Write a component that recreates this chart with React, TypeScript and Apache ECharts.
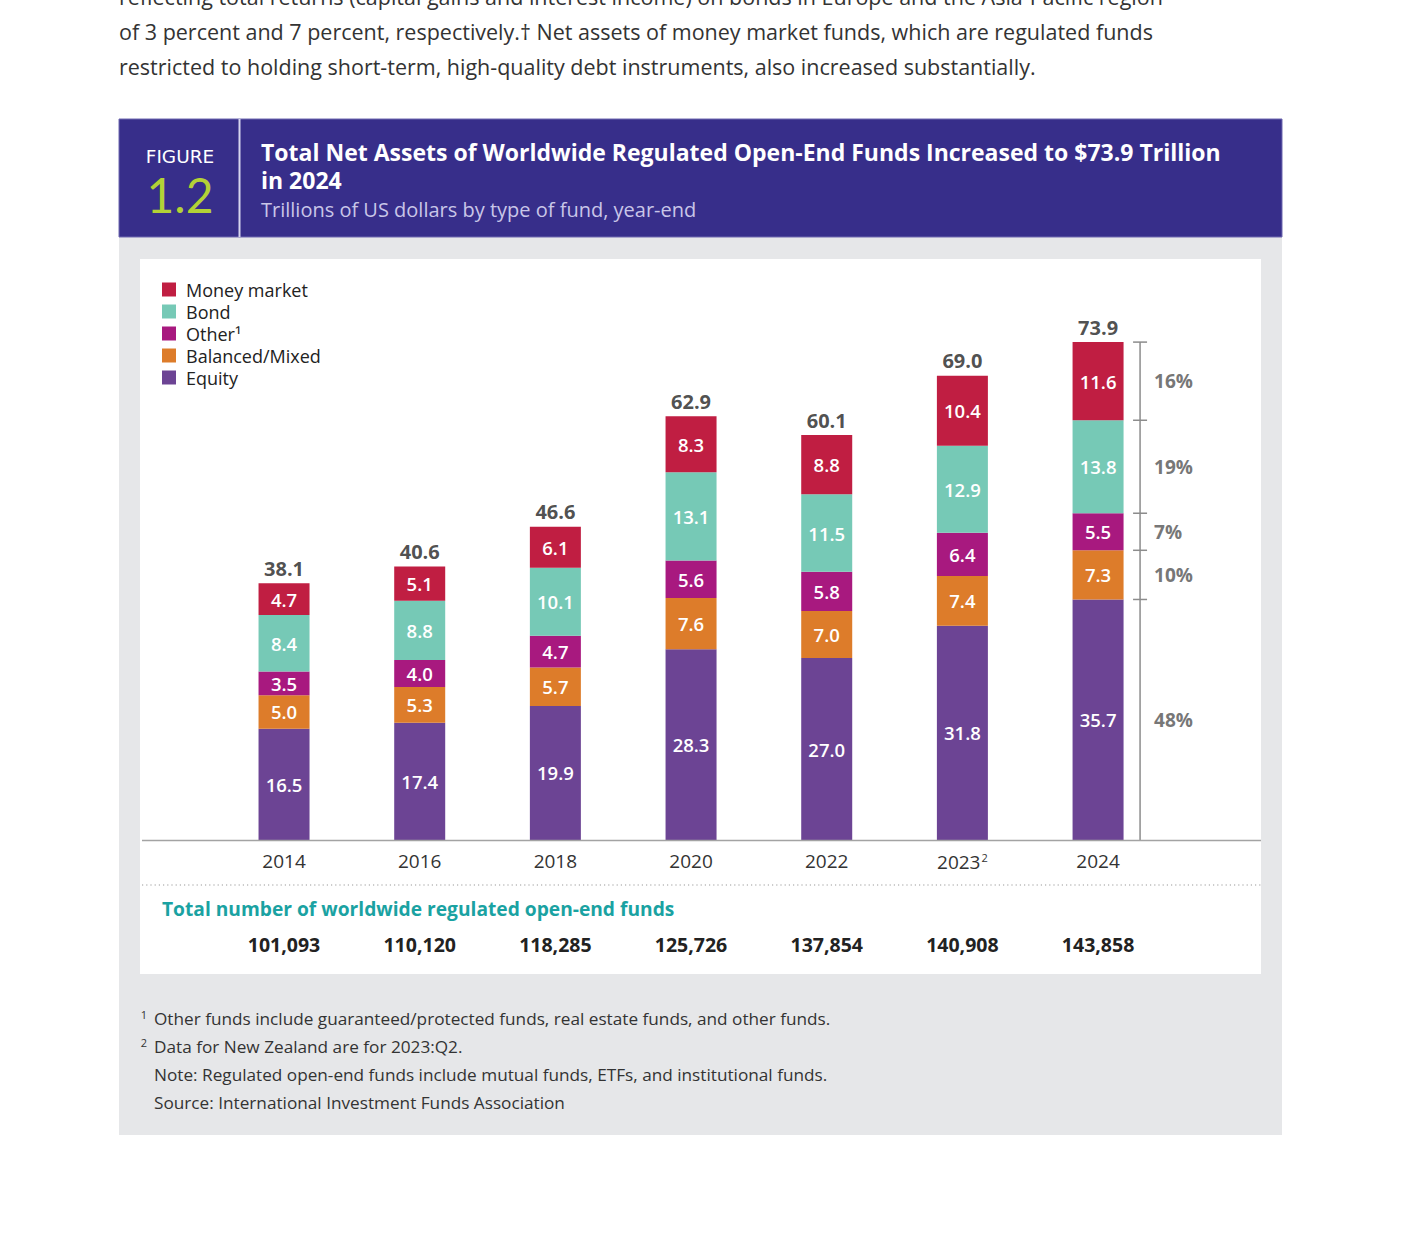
import { useEffect, useRef } from 'react';
import * as echarts from 'echarts';

const years = ['2014', '2016', '2018', '2020', '2022', '2023', '2024'];
const yearNotes = ['', '', '', '', '', '2', ''];
const equity = [16.5, 17.4, 19.9, 28.3, 27.0, 31.8, 35.7];
const balanced = [5.0, 5.3, 5.7, 7.6, 7.0, 7.4, 7.3];
const other = [3.5, 4.0, 4.7, 5.6, 5.8, 6.4, 5.5];
const bond = [8.4, 8.8, 10.1, 13.1, 11.5, 12.9, 13.8];
const moneyMarket = [4.7, 5.1, 6.1, 8.3, 8.8, 10.4, 11.6];
const totals = [38.1, 40.6, 46.6, 62.9, 60.1, 69.0, 73.9];
const fundCounts = [101093, 110120, 118285, 125726, 137854, 140908, 143858];

const FONT = '"Open Sans", Lato, sans-serif';

const paragraph = [
  'reflecting total returns (capital gains and interest income) on bonds in Europe and the Asia-Pacific region',
  'of 3 percent and 7 percent, respectively.\u2020 Net assets of money market funds, which are regulated funds',
  'restricted to holding short-term, high-quality debt instruments, also increased substantially.',
];

const footnotes = [
  ['1', 'Other funds include guaranteed/protected funds, real estate funds, and other funds.'],
  ['2', 'Data for New Zealand are for 2023:Q2.'],
  ['', 'Note: Regulated open-end funds include mutual funds, ETFs, and institutional funds.'],
  ['', 'Source: International Investment Funds Association'],
];

const seriesDefs = [
  { name: 'Equity', data: equity, color: '#6C4494' },
  { name: 'Balanced/Mixed', data: balanced, color: '#DD7C2A' },
  { name: 'Other\u00B9', data: other, color: '#A8197F' },
  { name: 'Bond', data: bond, color: '#76C9B6' },
  { name: 'Money market', data: moneyMarket, color: '#C01E42' },
];

function txt(x: number, y: number, text: string, size: number, fill: string, weight: any = 'normal', align = 'left', extra: any = {}) {
  return {
    type: 'text',
    x,
    y,
    z: 5,
    silent: true,
    style: {
      text,
      fill,
      fontSize: size,
      fontWeight: weight,
      fontFamily: FONT,
      align,
      verticalAlign: 'middle',
      ...extra,
    },
  };
}

export default function App() {
  const chartRef = useRef<HTMLDivElement>(null);

  useEffect(() => {
    document.body.style.margin = '0';
    if (!chartRef.current) return;
    const chart = echarts.init(chartRef.current, undefined, { renderer: 'svg' });

    const graphics: any[] = [
      // gray panel + white panel
      { type: 'rect', z: -10, silent: true, shape: { x: 119, y: 237, width: 1163, height: 898 }, style: { fill: '#E6E7E9' } },
      { type: 'rect', z: -9, silent: true, shape: { x: 140, y: 259, width: 1121, height: 715 }, style: { fill: '#FFFFFF' } },
      // header
      { type: 'rect', z: -8, silent: true, shape: { x: 119, y: 119, width: 1163, height: 118 }, style: { fill: '#372E8A', stroke: '#6E68B0', lineWidth: 1 } },
      { type: 'line', z: -7, silent: true, shape: { x1: 239.5, y1: 119, x2: 239.5, y2: 237 }, style: { stroke: '#D6D4EE', lineWidth: 2 } },
      txt(180, 156, 'FIGURE', 18.5, '#FFFFFF', 'normal', 'center', { fontFamily: '"DejaVu Sans", sans-serif', lineHeight: 18 }),
      txt(180, 194, '1.2', 48, '#B3D236', 'normal', 'center', { fontFamily: 'Lato, "Open Sans", sans-serif', lineHeight: 38 }),
      txt(261, 166, 'Total Net Assets of Worldwide Regulated Open-End Funds Increased to $73.9 Trillion\nin 2024', 23, '#FFFFFF', 'bold', 'left', { lineHeight: 28 }),
      txt(261, 209, 'Trillions of US dollars by type of fund, year-end', 20, '#C9C6E8'),
      // axis baseline and dotted separator
      { type: 'line', z: 3, silent: true, shape: { x1: 142, y1: 840.5, x2: 1261, y2: 840.5 }, style: { stroke: '#A3A3A3', lineWidth: 1.5 } },
      { type: 'line', z: 3, silent: true, shape: { x1: 142, y1: 885, x2: 1261, y2: 885 }, style: { stroke: '#9A9A9A', lineWidth: 1.2, lineDash: [1.2, 3] } },
      txt(162, 908, 'Total number of worldwide regulated open-end funds', 19.2, '#1AA2A2', 'bold'),
    ];

    paragraph.forEach((line, i) => {
      graphics.push(txt(119, -4 + i * 35, line, 21.5, '#333333'));
    });

    footnotes.forEach(([mark, line], i) => {
      const y = 1018 + i * 28;
      if (mark) graphics.push(txt(144, y - 4, mark, 11, '#333333', 'normal', 'center'));
      graphics.push(txt(154, y, line, 17.2, '#333333'));
    });

    const barSeries = seriesDefs.map((s) => ({
      name: s.name,
      type: 'bar',
      stack: 'total',
      barWidth: 51,
      data: s.data,
      itemStyle: { color: s.color },
      label: {
        show: true,
        position: 'inside',
        color: '#FFFFFF',
        fontSize: 18.5,
        fontWeight: 600,
        fontFamily: FONT,
        formatter: (p: any) => Number(p.value).toFixed(1),
      },
      emphasis: { disabled: true },
    }));

    const option: echarts.EChartsOption = {
      animation: false,
      backgroundColor: '#FFFFFF',
      textStyle: { fontFamily: FONT },
      graphic: graphics,
      legend: {
        data: ['Money market', 'Bond', 'Other\u00B9', 'Balanced/Mixed', 'Equity'],
        orient: 'vertical',
        left: 162,
        top: 280.5,
        padding: 0,
        icon: 'rect',
        itemWidth: 14,
        itemHeight: 14,
        itemGap: 4,
        selectedMode: false,
        textStyle: { fontSize: 18, color: '#222222', fontFamily: FONT, lineHeight: 17, padding: [0, 0, 0, 5] },
      },
      grid: { left: 216.2, top: 301, width: 949.7, height: 539 },
      xAxis: [
        {
          type: 'category',
          data: years,
          axisLine: { show: false },
          axisTick: { show: false },
          axisLabel: {
            interval: 0,
            margin: 11.5,
            fontSize: 19,
            color: '#333333',
            fontFamily: FONT,
            formatter: (v: string) => {
              const i = years.indexOf(v);
              return yearNotes[i] ? `{a|${v}}{s|${yearNotes[i]}}` : `{a|${v}}`;
            },
            rich: {
              a: { fontSize: 19, color: '#333333', fontFamily: FONT },
              s: { fontSize: 11, color: '#333333', fontFamily: FONT, verticalAlign: 'top', padding: [0, 0, 9, 1] },
            },
          },
        },
        {
          type: 'category',
          data: fundCounts.map((n) => n.toLocaleString('en-US')),
          position: 'bottom',
          offset: 83,
          axisLine: { show: false },
          axisTick: { show: false },
          axisLabel: { interval: 0, margin: 11, fontSize: 19.5, fontWeight: 'bold', color: '#222222', fontFamily: FONT },
        },
      ],
      yAxis: { type: 'value', min: 0, max: 80, show: false },
      series: [
        ...(barSeries as any[]),
        {
          type: 'scatter',
          name: 'Total',
          data: totals,
          symbolSize: 0,
          silent: true,
          z: 5,
          label: {
            show: true,
            position: 'top',
            distance: 5,
            color: '#222222',
            fontSize: 20,
            fontWeight: 'bold',
            fontFamily: FONT,
            formatter: (p: any) => Number(p.value).toFixed(1),
          },
        },
        {
          type: 'custom',
          name: 'Shares',
          silent: true,
          data: [[years.length - 1, 0]],
          encode: { x: 0, y: 1 },
          renderItem: (_params: any, api: any) => {
            const idx = api.value(0);
            const segs = seriesDefs.map((s) => s.data[idx]);
            const sum = segs.reduce((a, b) => a + b, 0);
            const [cx, y0] = api.coord([idx, 0]);
            const lx = cx + 42;
            const yTop = api.coord([idx, sum])[1];
            const children: any[] = [
              { type: 'line', shape: { x1: lx, y1: yTop, x2: lx, y2: y0 }, style: { stroke: '#8C8C8C', lineWidth: 1.5 } },
            ];
            let cum = 0;
            segs.forEach((v) => {
              const yb = api.coord([idx, cum])[1];
              cum += v;
              const yt = api.coord([idx, cum])[1];
              children.push({ type: 'line', shape: { x1: lx - 7, y1: yt, x2: lx + 7, y2: yt }, style: { stroke: '#8C8C8C', lineWidth: 1.5 } });
              children.push({
                type: 'text',
                x: lx + 14,
                y: (yb + yt) / 2,
                style: {
                  text: `${Math.round((v / totals[idx]) * 100)}%`,
                  fill: '#777777',
                  fontSize: 19,
                  fontWeight: 'bold',
                  fontFamily: FONT,
                  align: 'left',
                  verticalAlign: 'middle',
                },
              });
            });
            return { type: 'group', children };
          },
        },
      ],
    };

    chart.setOption(option);
    return () => {
      chart.dispose();
    };
  }, []);

  return <div ref={chartRef} style={{ width: 1401, height: 1255 }} />;
}
